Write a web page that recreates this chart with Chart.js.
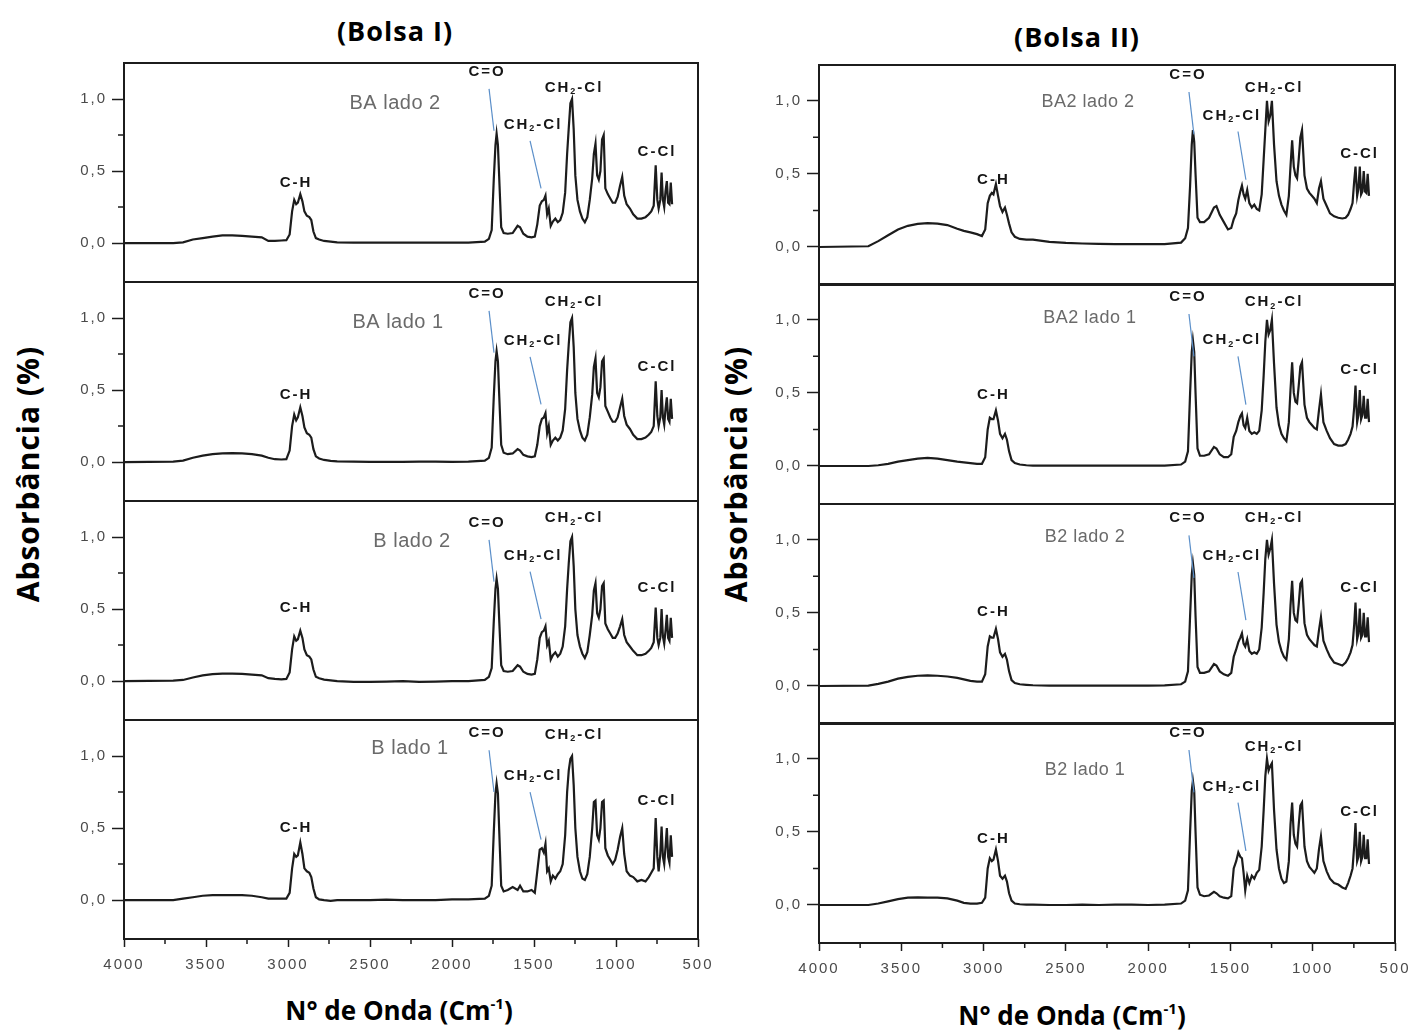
<!DOCTYPE html>
<html>
<head>
<meta charset="utf-8">
<script src="https://cdn.jsdelivr.net/npm/chart.js@4.4.1/dist/chart.umd.min.js"></script>
<style>
  body { margin: 0; background: #fff; width: 1425px; height: 1032px; position: relative; overflow: hidden; }
  .title { position: absolute; font-family: 'Open Sans', sans-serif; font-weight: 700; color: #000;
           white-space: nowrap; line-height: 1; transform: translate(-50%, -50%); }
  .ytitle { transform: translate(-50%, -50%) rotate(-90deg); }
  .title sup { font-size: 15px; line-height: 0; vertical-align: 11px; }
  canvas { position: absolute; }
</style>
</head>
<body>
<div class="title" style="left:395px;top:30px;font-size:27px;letter-spacing:1px">(Bolsa I)</div>
<div class="title" style="left:1077px;top:36px;font-size:27px;letter-spacing:1px">(Bolsa II)</div>
<div class="title ytitle" style="left:28px;top:474px;font-size:30px;letter-spacing:1px">Absorbância (%)</div>
<div class="title ytitle" style="left:736px;top:474px;font-size:30px;letter-spacing:1px">Absorbância (%)</div>
<div class="title" style="left:399px;top:1010px;font-size:26px">N° de Onda (Cm<sup>-1</sup>)</div>
<div class="title" style="left:1072px;top:1015px;font-size:26px">N° de Onda (Cm<sup>-1</sup>)</div>

<script>
// ==========================================================================
// FTIR spectra — Bolsa I / Bolsa II, 4 stacked panels each
// ==========================================================================

// shared wavenumber grid (cm-1)
const WAVENUMBERS = [
  4000, 3700, 3640, 3580, 3520, 3460, 3400, 3340, 3280, 3220, 3160, 3120, 3080, 3040, 3010,
  2990, 2975, 2962, 2950, 2940, 2925, 2912, 2900, 2885, 2870, 2858, 2845, 2830, 2810, 2780, 2740, 2700,
  2600, 2500, 2400, 2300, 2200, 2100, 2000, 1900, 1800,
  1775, 1758, 1745, 1735, 1728, 1720, 1712, 1700, 1685, 1660, 1630, 1600, 1585, 1565, 1540, 1515, 1495,
  1480, 1465, 1452, 1440, 1430, 1420, 1410, 1398, 1385, 1370, 1355, 1340, 1325, 1310, 1298, 1288, 1278, 1268, 1258, 1248, 1235, 1220,
  1205, 1190, 1175, 1160, 1145, 1135, 1125, 1115, 1105, 1095, 1085, 1075, 1065, 1050, 1035, 1020, 1005, 990, 975, 962,
  950, 935, 915, 895, 870, 845, 820, 800, 785, 770, 758, 748, 740, 730, 722, 714, 706, 698, 690, 682, 674, 666, 658,
];

// Bolsa I
const BA_LADO_2 = [
  0, 0, 0.005, 0.025, 0.035, 0.045, 0.053, 0.053, 0.05, 0.045, 0.04, 0.015, 0.015, 0.018, 0.02,
  0.06, 0.22, 0.30, 0.27, 0.28, 0.34, 0.29, 0.22, 0.19, 0.18, 0.16, 0.08, 0.035, 0.025, 0.015, 0.01, 0.005,
  0.003, 0.003, 0.003, 0.003, 0.003, 0.003, 0.003, 0.003, 0.01,
  0.03, 0.09, 0.45, 0.68, 0.76, 0.68, 0.45, 0.11, 0.07, 0.065, 0.07, 0.12, 0.11, 0.065, 0.045, 0.04, 0.045,
  0.13, 0.26, 0.29, 0.30, 0.33, 0.2, 0.24, 0.12, 0.15, 0.17, 0.145, 0.16, 0.21, 0.35, 0.62, 0.8, 0.97, 1.0, 0.79, 0.47, 0.3, 0.22,
  0.17, 0.145, 0.18, 0.3, 0.45, 0.62, 0.69, 0.47, 0.44, 0.5, 0.72, 0.75, 0.38, 0.34, 0.31, 0.28, 0.28, 0.32, 0.4, 0.46,
  0.33, 0.27, 0.24, 0.2, 0.17, 0.17, 0.18, 0.2, 0.22, 0.26, 0.54, 0.3, 0.24, 0.3, 0.49, 0.3, 0.25, 0.36, 0.43, 0.28, 0.27, 0.42, 0.27,
];
const BA_LADO_1 = [
  0, 0.003, 0.01, 0.03, 0.045, 0.055, 0.06, 0.062, 0.06, 0.055, 0.045, 0.03, 0.02, 0.018, 0.02,
  0.08, 0.25, 0.33, 0.29, 0.31, 0.38, 0.32, 0.24, 0.2, 0.19, 0.17, 0.09, 0.04, 0.025, 0.015, 0.008, 0.005,
  0.003, 0.002, 0.002, 0.002, 0.003, 0.003, 0.002, 0.003, 0.01,
  0.03, 0.1, 0.46, 0.7, 0.77, 0.7, 0.46, 0.12, 0.065, 0.055, 0.06, 0.09, 0.08, 0.05, 0.04, 0.035, 0.04,
  0.12, 0.25, 0.3, 0.31, 0.34, 0.2, 0.25, 0.12, 0.15, 0.17, 0.15, 0.17, 0.22, 0.37, 0.64, 0.82, 0.97, 1.0, 0.8, 0.48, 0.3, 0.22,
  0.17, 0.15, 0.19, 0.31, 0.47, 0.66, 0.72, 0.48, 0.45, 0.52, 0.7, 0.72, 0.39, 0.35, 0.31, 0.28, 0.28, 0.31, 0.38, 0.44,
  0.32, 0.26, 0.23, 0.19, 0.16, 0.16, 0.17, 0.19, 0.21, 0.25, 0.56, 0.32, 0.25, 0.31, 0.5, 0.31, 0.26, 0.37, 0.45, 0.3, 0.28, 0.44, 0.3,
];
const B_LADO_2 = [
  0, 0.003, 0.008, 0.025, 0.04, 0.048, 0.052, 0.052, 0.05, 0.045, 0.04, 0.02, 0.015, 0.012, 0.015,
  0.06, 0.22, 0.31, 0.28, 0.29, 0.35, 0.3, 0.22, 0.18, 0.17, 0.15, 0.08, 0.03, 0.02, 0.01, 0.005, 0,
  -0.005, -0.005, -0.003, 0, -0.005, -0.003, 0, 0, 0.008,
  0.03, 0.09, 0.42, 0.64, 0.71, 0.64, 0.42, 0.11, 0.07, 0.065, 0.07, 0.11, 0.1, 0.065, 0.05, 0.045, 0.05,
  0.15, 0.3, 0.34, 0.35, 0.38, 0.25, 0.28, 0.15, 0.18, 0.2, 0.17, 0.19, 0.24, 0.38, 0.64, 0.82, 0.97, 1.0, 0.8, 0.5, 0.32, 0.24,
  0.19, 0.16, 0.2, 0.32, 0.46, 0.63, 0.68, 0.47, 0.44, 0.5, 0.66, 0.68, 0.4, 0.36, 0.33, 0.3, 0.3, 0.33, 0.38, 0.43,
  0.32, 0.27, 0.24, 0.21, 0.18, 0.18, 0.19, 0.21, 0.23, 0.27, 0.51, 0.3, 0.25, 0.3, 0.5, 0.31, 0.26, 0.35, 0.46, 0.3, 0.28, 0.44, 0.3,
];
const B_LADO_1 = [
  0, 0, 0.01, 0.02, 0.03, 0.035, 0.035, 0.035, 0.035, 0.03, 0.02, 0.01, 0.01, 0.01, 0.01,
  0.05, 0.22, 0.32, 0.3, 0.31, 0.4, 0.32, 0.22, 0.2, 0.19, 0.16, 0.08, 0.02, 0.005, 0, -0.005, 0,
  0, 0, 0.003, 0, 0, 0, 0.005, 0.005, 0.01,
  0.03, 0.1, 0.48, 0.74, 0.81, 0.74, 0.48, 0.1, 0.06, 0.07, 0.09, 0.07, 0.1, 0.06, 0.06, 0.07, 0.05,
  0.2, 0.35, 0.36, 0.33, 0.39, 0.2, 0.22, 0.13, 0.17, 0.15, 0.18, 0.2, 0.25, 0.45, 0.75, 0.9, 0.98, 1.0, 0.8, 0.5, 0.3, 0.2,
  0.15, 0.14, 0.18, 0.3, 0.5, 0.68, 0.69, 0.45, 0.42, 0.5, 0.68, 0.69, 0.36, 0.31, 0.28, 0.25, 0.28, 0.35, 0.44, 0.5,
  0.32, 0.2, 0.17, 0.16, 0.13, 0.14, 0.13, 0.16, 0.19, 0.22, 0.57, 0.3, 0.2, 0.32, 0.51, 0.3, 0.25, 0.37, 0.5, 0.3, 0.26, 0.45, 0.3,
];

// Bolsa II
const BA2_LADO_2 = [
  0, 0.005, 0.04, 0.08, 0.12, 0.145, 0.158, 0.163, 0.16, 0.15, 0.125, 0.11, 0.1, 0.088, 0.075,
  0.12, 0.3, 0.35, 0.37, 0.36, 0.43, 0.35, 0.28, 0.24, 0.27, 0.22, 0.16, 0.1, 0.07, 0.055, 0.05, 0.05,
  0.035, 0.028, 0.024, 0.022, 0.02, 0.02, 0.02, 0.02, 0.03,
  0.06, 0.13, 0.42, 0.7, 0.8, 0.72, 0.5, 0.2, 0.17, 0.17, 0.2, 0.27, 0.28, 0.22, 0.17, 0.12, 0.13,
  0.19, 0.23, 0.32, 0.38, 0.42, 0.36, 0.33, 0.39, 0.3, 0.27, 0.29, 0.26, 0.25, 0.36, 0.6, 0.8, 1.0, 0.86, 0.9, 1.0, 0.7, 0.45,
  0.35, 0.29, 0.25, 0.22, 0.35, 0.55, 0.73, 0.55, 0.49, 0.47, 0.6, 0.75, 0.8, 0.49, 0.4, 0.37, 0.35, 0.33, 0.3, 0.4,
  0.45, 0.33, 0.28, 0.23, 0.21, 0.2, 0.195, 0.2, 0.22, 0.26, 0.3, 0.45, 0.55, 0.35, 0.4, 0.55, 0.36, 0.38, 0.52, 0.38, 0.37, 0.5, 0.35,
];
const BA2_LADO_1 = [
  0, 0, 0.005, 0.015, 0.03, 0.04, 0.05, 0.055, 0.05, 0.04, 0.03, 0.025, 0.02, 0.015, 0.015,
  0.06, 0.25, 0.33, 0.32, 0.32, 0.38, 0.31, 0.22, 0.19, 0.22, 0.18, 0.1, 0.04, 0.02, 0.01, 0.005, 0.003,
  0.002, 0.002, 0.002, 0.002, 0.002, 0.002, 0.002, 0.003, 0.01,
  0.03, 0.1, 0.5, 0.78, 0.86, 0.78, 0.5, 0.12, 0.07, 0.07, 0.08, 0.13, 0.12, 0.08, 0.06, 0.06, 0.08,
  0.2, 0.24, 0.3, 0.34, 0.36, 0.28, 0.26, 0.33, 0.24, 0.22, 0.23, 0.22, 0.24, 0.38, 0.62, 0.85, 1.0, 0.9, 0.93, 1.0, 0.7, 0.4,
  0.28, 0.22, 0.19, 0.17, 0.3, 0.52, 0.71, 0.5, 0.44, 0.43, 0.55, 0.68, 0.71, 0.42, 0.33, 0.3, 0.28, 0.26, 0.25, 0.38,
  0.49, 0.3, 0.24, 0.19, 0.15, 0.14, 0.14, 0.15, 0.18, 0.22, 0.27, 0.4, 0.55, 0.3, 0.35, 0.52, 0.32, 0.35, 0.48, 0.33, 0.33, 0.46, 0.3,
];
const B2_LADO_2 = [
  0, 0.003, 0.015, 0.03, 0.05, 0.062, 0.07, 0.072, 0.07, 0.065, 0.055, 0.045, 0.035, 0.03, 0.03,
  0.08, 0.27, 0.34, 0.33, 0.33, 0.39, 0.32, 0.23, 0.2, 0.22, 0.18, 0.1, 0.04, 0.02, 0.012, 0.008, 0.005,
  0.003, 0.002, 0.002, 0.002, 0.003, 0.003, 0.003, 0.004, 0.012,
  0.03, 0.1, 0.48, 0.76, 0.84, 0.76, 0.48, 0.13, 0.09, 0.09, 0.1, 0.15, 0.14, 0.1, 0.08, 0.07, 0.09,
  0.2, 0.25, 0.3, 0.33, 0.36, 0.29, 0.27, 0.32, 0.24, 0.22, 0.23, 0.22, 0.25, 0.4, 0.64, 0.87, 1.0, 0.9, 0.94, 1.0, 0.7, 0.42,
  0.3, 0.24, 0.2, 0.18, 0.32, 0.55, 0.72, 0.5, 0.45, 0.44, 0.56, 0.7, 0.72, 0.43, 0.35, 0.32, 0.3, 0.28, 0.27, 0.38,
  0.47, 0.31, 0.25, 0.2, 0.16, 0.15, 0.14, 0.16, 0.19, 0.23, 0.28, 0.42, 0.57, 0.32, 0.36, 0.53, 0.33, 0.35, 0.5, 0.34, 0.34, 0.47, 0.3,
];
const B2_LADO_1 = [
  0, 0, 0.01, 0.025, 0.04, 0.05, 0.052, 0.05, 0.05, 0.045, 0.03, 0.015, 0.01, 0.01, 0.015,
  0.05, 0.25, 0.32, 0.3, 0.31, 0.38, 0.3, 0.2, 0.18, 0.2, 0.16, 0.08, 0.03, 0.01, 0.005, 0.003, 0.002,
  0, 0, 0.002, 0, 0.002, 0.002, 0, 0.003, 0.01,
  0.03, 0.1, 0.5, 0.78, 0.85, 0.78, 0.5, 0.12, 0.07, 0.06, 0.065, 0.09, 0.08, 0.06, 0.05, 0.045, 0.06,
  0.25, 0.3, 0.36, 0.33, 0.32, 0.22, 0.1, 0.2, 0.15, 0.2, 0.18, 0.22, 0.24, 0.4, 0.65, 0.88, 1.0, 0.92, 0.95, 0.97, 0.65, 0.38,
  0.25, 0.18, 0.15, 0.16, 0.3, 0.55, 0.7, 0.48, 0.42, 0.4, 0.55, 0.68, 0.7, 0.4, 0.3, 0.26, 0.24, 0.22, 0.25, 0.38,
  0.47, 0.3, 0.23, 0.18, 0.15, 0.14, 0.12, 0.11, 0.15, 0.2, 0.25, 0.4, 0.56, 0.3, 0.33, 0.5, 0.3, 0.33, 0.48, 0.32, 0.32, 0.45, 0.28,
];

const X_TICKS = [4000, 3500, 3000, 2500, 2000, 1500, 1000, 500];
const X_MINOR = [3750, 3250, 2750, 2250, 1750, 1250, 750];
const Y_TICKS = [0, 0.5, 1.0];
const Y_MINOR = [0.25, 0.75];

const LEFT_NAMES = ['BA lado 2', 'BA lado 1', 'B lado 2', 'B lado 1'];
const RIGHT_NAMES = ['BA2 lado 2', 'BA2 lado 1', 'B2 lado 2', 'B2 lado 1'];

// label heights per panel (absorbance units): name, C=O, CH2-Cl (1450), CH2-Cl (top), C-H, C-Cl
const LEFT_NOTE_Y = [
  [0.97, 1.19, 0.82, 1.08, 0.42, 0.63],
  [0.97, 1.17, 0.84, 1.11, 0.47, 0.66],
  [0.97, 1.10, 0.87, 1.13, 0.51, 0.65],
  [1.05, 1.16, 0.86, 1.15, 0.50, 0.69],
];
const RIGHT_NOTE_Y = [
  [0.99, 1.18, 0.90, 1.09, 0.46, 0.64],
  [1.01, 1.16, 0.86, 1.12, 0.49, 0.66],
  [1.02, 1.15, 0.89, 1.15, 0.51, 0.67],
  [0.92, 1.18, 0.81, 1.08, 0.45, 0.64],
];
// label wavenumbers per column: name, C=O, C=O leader, CH2-Cl, CH2 leader, CH2-Cl top, C-H, C-Cl
const LEFT_NOTE_X = { name: [2347, 2329, 2244, 2256], co: 1786, coLine: [1774, 1744], ch2: 1506, ch2Line: [1524, 1457], ch2top: 1256, ch: 2951, ccl: 750 };
const RIGHT_NOTE_X = { name: [2366, 2354, 2384, 2384], co: 1758, coLine: [1752, 1722], ch2: 1491, ch2Line: [1454, 1406], ch2top: 1235, ch: 2940, ccl: 715 };

const COLUMNS = [
  { left: 124, width: 574, tops: [63, 282, 501, 720], height: 219, yMin: -0.27, yMax: 1.25,
    series: [BA_LADO_2, BA_LADO_1, B_LADO_2, B_LADO_1], names: LEFT_NAMES, noteY: LEFT_NOTE_Y, noteX: LEFT_NOTE_X, nameSize: 20 },
  { left: 819, width: 576, tops: [65, 284, 504, 723], height: 220, yMin: -0.26, yMax: 1.245,
    series: [BA2_LADO_2, BA2_LADO_1, B2_LADO_2, B2_LADO_1], names: RIGHT_NAMES, noteY: RIGHT_NOTE_Y, noteX: RIGHT_NOTE_X, nameSize: 18 },
];

const AXIS_W = 70, PAD_T = 12, PAD_R = 30, PAD_B = 12, XAXIS_H = 45;
const TICK_FONT = { family: "'Liberation Sans', Arial, sans-serif", size: 15 };
const NOTE_FONT = "'Liberation Sans', Arial, sans-serif";
const NOTE_SIZE = 15;
const INK = '#1c1c1c';

function drawText(ctx, str, x, y, font, color) {
  ctx.font = font;
  ctx.fillStyle = color;
  ctx.textAlign = 'center';
  ctx.textBaseline = 'middle';
  ctx.fillText(str, x, y);
}

function drawCH2Cl(ctx, cx, cy, size) {
  const big = `bold ${size}px ${NOTE_FONT}`, small = `bold ${Math.round(size * 0.62)}px ${NOTE_FONT}`;
  ctx.font = big;
  const w1 = ctx.measureText('CH').width, w3 = ctx.measureText('-Cl').width;
  ctx.font = small;
  const w2 = ctx.measureText('2').width;
  let x = cx - (w1 + w2 + w3) / 2;
  ctx.fillStyle = '#151515';
  ctx.textAlign = 'left';
  ctx.textBaseline = 'middle';
  ctx.font = big; ctx.fillText('CH', x, cy); x += w1;
  ctx.font = small; ctx.fillText('2', x, cy + size * 0.25); x += w2;
  ctx.font = big; ctx.fillText('-Cl', x, cy);
}

function leader(ctx, x1, y1, x2, y2) {
  ctx.strokeStyle = '#5b8fc9';
  ctx.lineWidth = 1.2;
  ctx.beginPath(); ctx.moveTo(x1, y1); ctx.lineTo(x2, y2); ctx.stroke();
}

const framePlugin = {
  id: 'frame',
  beforeDraw(chart) {
    chart.ctx.letterSpacing = '2px';
  },
  afterDatasetsDraw(chart, args, opts) {
    const { ctx, chartArea: a } = chart;
    const x = chart.scales.x, y = chart.scales.y;
    ctx.save();
    ctx.strokeStyle = INK;
    ctx.lineWidth = 2;
    ctx.strokeRect(a.left, a.top, a.right - a.left, a.bottom - a.top);

    // minor ticks
    ctx.lineWidth = 1.5;
    ctx.beginPath();
    Y_MINOR.forEach(v => {
      const py = y.getPixelForValue(v);
      ctx.moveTo(a.left - 6, py); ctx.lineTo(a.left, py);
    });
    if (opts.bottom) {
      X_MINOR.forEach(v => {
        const px = x.getPixelForValue(v);
        ctx.moveTo(px, a.bottom); ctx.lineTo(px, a.bottom + 5);
      });
    }
    ctx.stroke();

    // band labels
    const nx = opts.noteX, ny = opts.noteY, i = opts.index;
    const X = v => x.getPixelForValue(v), Y = v => y.getPixelForValue(v);
    const noteFont = `bold ${NOTE_SIZE}px ${NOTE_FONT}`;
    ctx.letterSpacing = '0.5px';
    drawText(ctx, opts.name, X(nx.name[i]), Y(ny[0]), `${opts.nameSize}px ${NOTE_FONT}`, '#6a6a6a');
    ctx.letterSpacing = '2px';
    drawText(ctx, 'C=O', X(nx.co), Y(ny[1]), noteFont, '#151515');
    drawCH2Cl(ctx, X(nx.ch2), Y(ny[2]), NOTE_SIZE);
    drawCH2Cl(ctx, X(nx.ch2top), Y(ny[3]), NOTE_SIZE);
    drawText(ctx, 'C-H', X(nx.ch), Y(ny[4]), noteFont, '#151515');
    drawText(ctx, 'C-Cl', X(nx.ccl), Y(ny[5]), noteFont, '#151515');
    leader(ctx, X(nx.coLine[0]), Y(ny[1] - 0.12), X(nx.coLine[1]), Y(ny[1] - 0.41));
    leader(ctx, X(nx.ch2Line[0]), Y(ny[2] - 0.11), X(nx.ch2Line[1]), Y(ny[2] - 0.44));
    ctx.restore();
  }
};

function makePanel(col, i) {
  const bottom = i === 3;
  const canvas = document.createElement('canvas');
  const w = AXIS_W + col.width + PAD_R;
  const h = PAD_T + col.height + (bottom ? XAXIS_H : PAD_B);
  canvas.width = w; canvas.height = h;
  canvas.style.width = w + 'px'; canvas.style.height = h + 'px';
  canvas.style.left = (col.left - AXIS_W) + 'px';
  canvas.style.top = (col.tops[i] - PAD_T) + 'px';
  document.body.appendChild(canvas);

  const values = col.series[i];
  new Chart(canvas, {
    type: 'line',
    data: {
      datasets: [{
        data: WAVENUMBERS.map((wn, k) => ({ x: wn, y: values[k] })),
        borderColor: INK,
        borderWidth: 2.2,
        pointRadius: 0,
        tension: 0,
        fill: false,
      }]
    },
    options: {
      responsive: false,
      animation: false,
      devicePixelRatio: 1,
      layout: { padding: { top: PAD_T, right: PAD_R, bottom: bottom ? 0 : PAD_B, left: 0 } },
      plugins: {
        legend: { display: false },
        tooltip: { enabled: false },
        frame: { bottom, index: i, name: col.names[i], noteX: col.noteX, noteY: col.noteY[i], nameSize: col.nameSize },
      },
      scales: {
        x: {
          type: 'linear',
          reverse: true,
          min: 500, max: 4000,
          display: bottom,
          afterBuildTicks: s => { s.ticks = X_TICKS.map(v => ({ value: v })); },
          afterFit: s => { s.height = bottom ? XAXIS_H : 0; s.paddingLeft = 0; s.paddingRight = 0; },
          ticks: { font: TICK_FONT, color: '#4a4a4a', padding: 9, maxRotation: 0, autoSkip: false, callback: v => String(v) },
          grid: { drawOnChartArea: false, drawTicks: true, tickLength: 8, tickColor: INK, tickWidth: 1.5 },
          border: { display: false },
        },
        y: {
          min: col.yMin, max: col.yMax,
          afterBuildTicks: s => { s.ticks = Y_TICKS.map(v => ({ value: v })); },
          afterFit: s => { s.width = AXIS_W; s.paddingTop = 0; s.paddingBottom = 0; },
          ticks: { font: TICK_FONT, color: '#4a4a4a', padding: 5, callback: v => v.toFixed(1).replace('.', ',') },
          grid: { drawOnChartArea: false, drawTicks: true, tickLength: 12, tickColor: INK, tickWidth: 1.5 },
          border: { display: false },
        }
      }
    },
    plugins: [framePlugin]
  });
}

COLUMNS.forEach(col => [0, 1, 2, 3].forEach(i => makePanel(col, i)));
</script>
</body>
</html>
